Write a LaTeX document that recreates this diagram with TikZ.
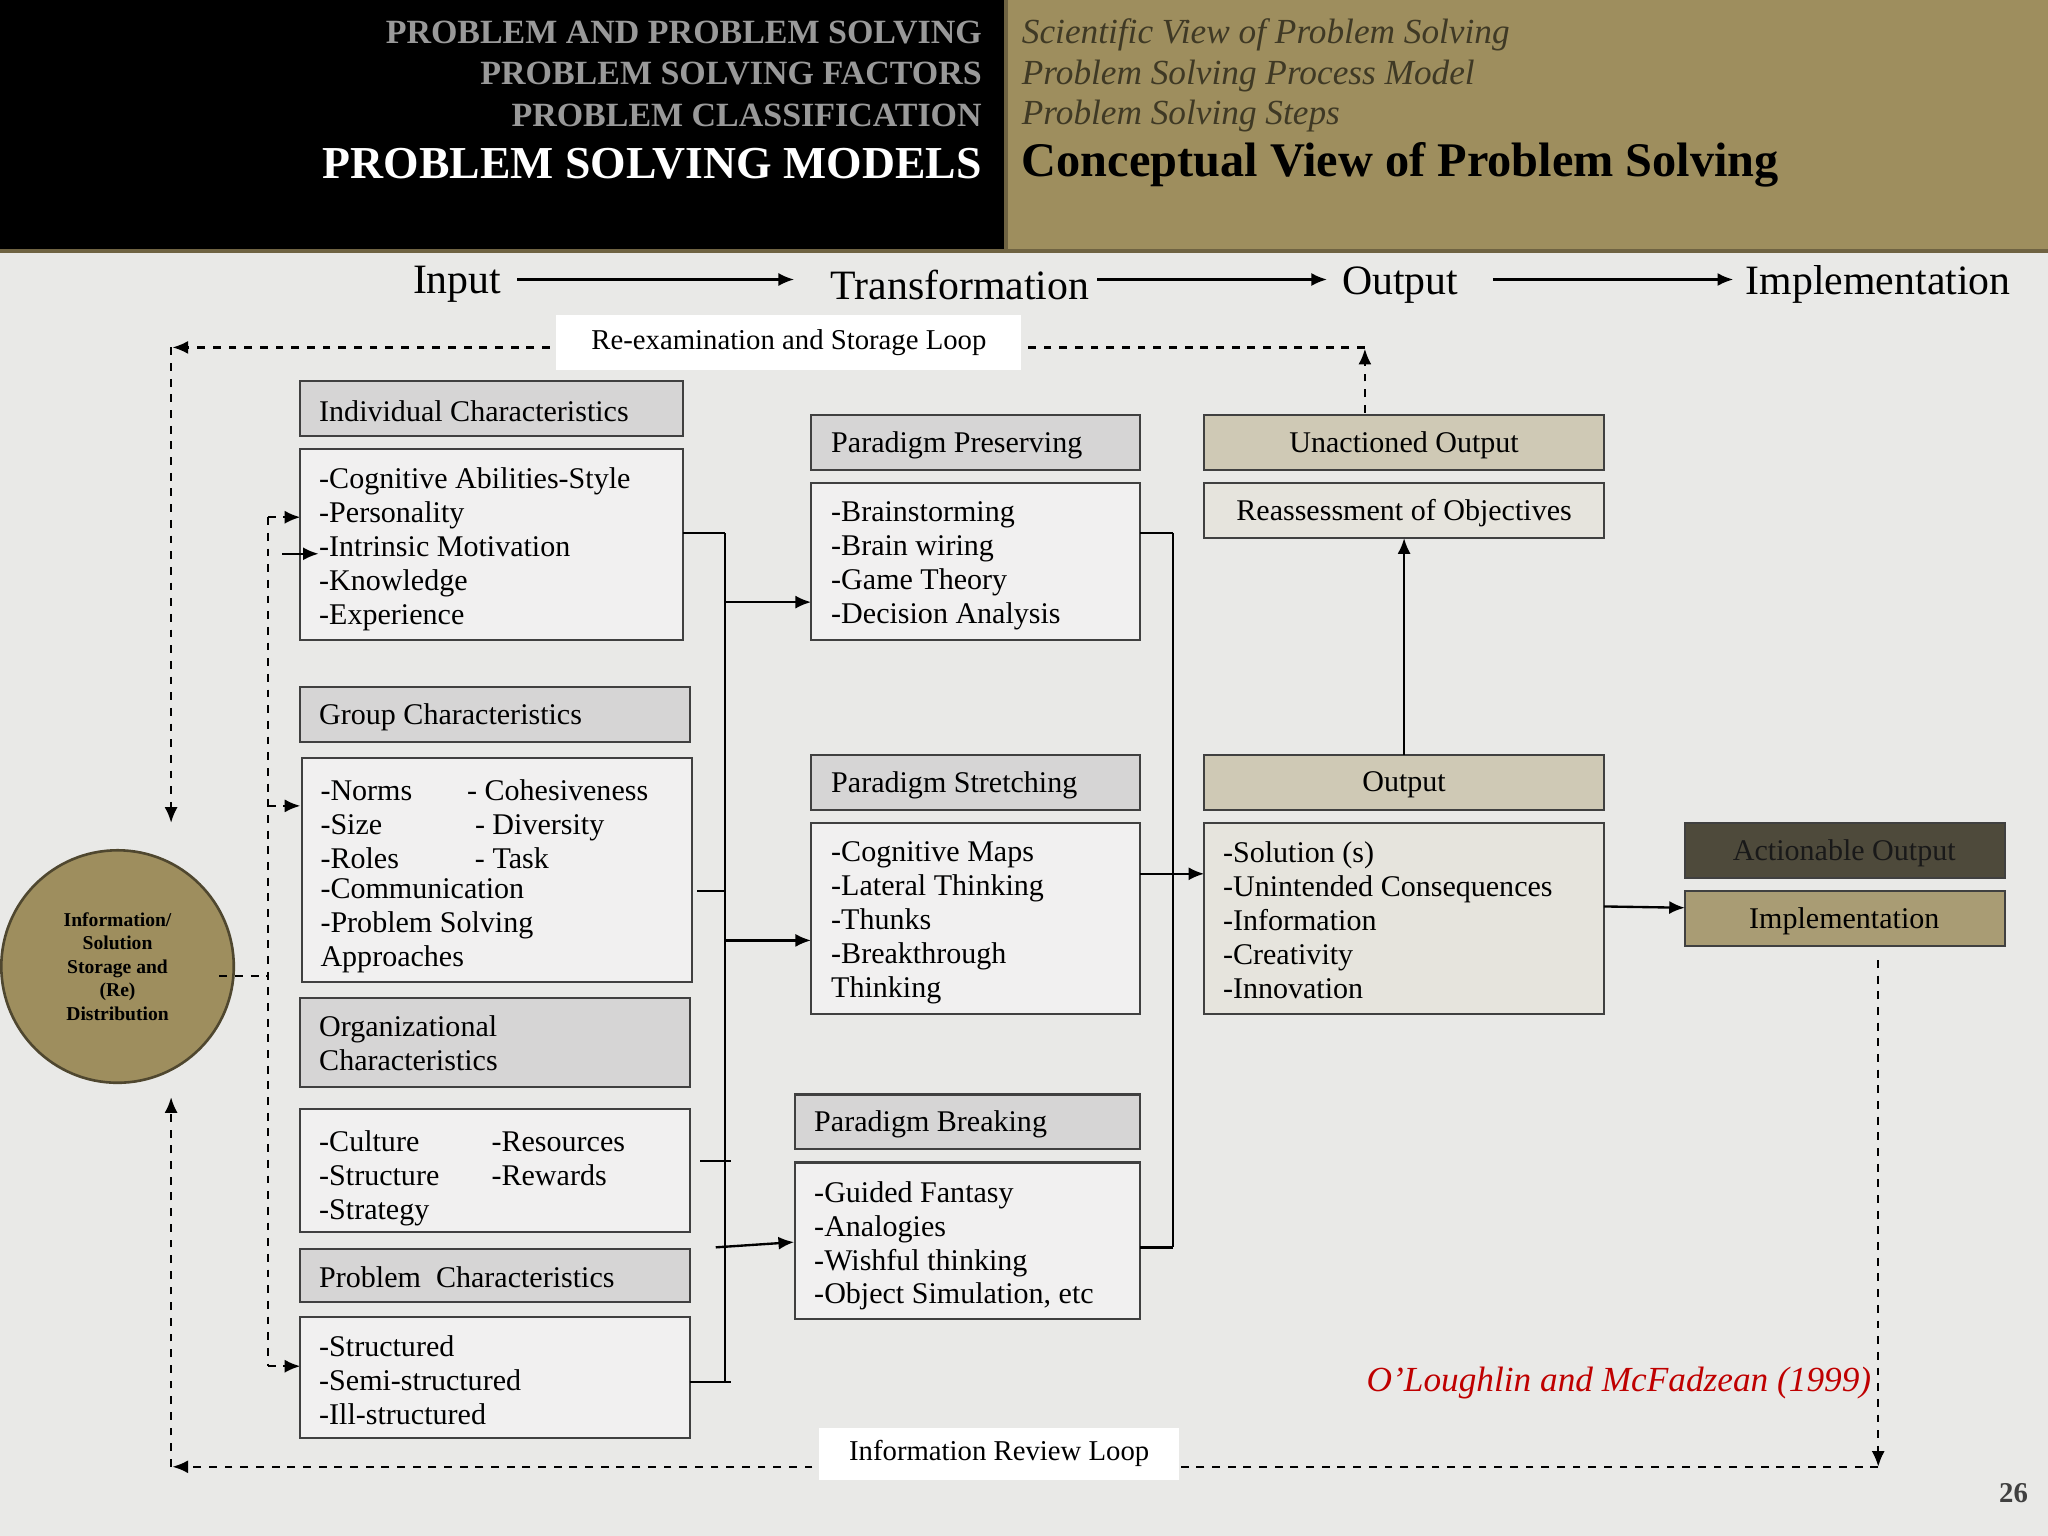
\documentclass[tikz,border=0pt]{standalone}
\usepackage{fontspec}
\setmainfont{Liberation Serif}
\usetikzlibrary{arrows.meta}
\definecolor{olive}{HTML}{9E8E5E}
\definecolor{hdrgray}{HTML}{D6D5D5}
\definecolor{lst}{HTML}{F1F0F0}
\definecolor{tan}{HTML}{CFC9B5}
\definecolor{tanl}{HTML}{E6E4DD}
\definecolor{dk}{HTML}{4E4A3B}
\definecolor{impl}{HTML}{A99C74}
\definecolor{bg}{HTML}{E9E9E7}
\tikzset{
 bx/.style={draw=black!75,line width=0.8pt},
 tx/.style={anchor=north west,align=left,inner sep=0pt,font=\fontsize{11.5}{13}\selectfont},
 ht/.style={anchor=west,inner sep=0pt,font=\fontsize{11.5}{13}\selectfont},
 ar/.style={-{Latex[length=6pt,width=5pt]},line width=0.9pt},
 dar/.style={ar,dashed},
 ln/.style={line width=0.9pt},
}
\newcommand{\bxx}[5]{\path[bx,fill=#5] (#1,#2) rectangle (#3,#4);}
\begin{document}
\begin{tikzpicture}[x=0.5pt,y=-0.5pt]
\useasboundingbox (0,0) rectangle (1568,1176);
\fill[bg] (0,0) rectangle (1568,1176);
\fill[black] (0,0) rectangle (770,192);
\fill[olive] (770,0) rectangle (1568,192);
\draw[olive!70!black,line width=1.5pt] (0,192)--(1568,192);
\draw[olive!70!black,line width=1.5pt] (770,0)--(770,192);
% header
\begin{scope}[every node/.style={anchor=east,inner sep=0pt,font=\fontsize{13}{14}\selectfont\bfseries,text=gray!80}]
\node (h1) at (752,25) {PROBLEM AND PROBLEM SOLVING};
\node (h2) at (752,56) {PROBLEM SOLVING FACTORS};
\node (h3) at (752,88) {PROBLEM CLASSIFICATION};
\end{scope}
\node[anchor=east,inner sep=0pt,font=\fontsize{17.5}{18}\selectfont\bfseries,text=white] (h4) at (752,125) {PROBLEM SOLVING MODELS};
\begin{scope}[every node/.style={anchor=west,inner sep=0pt,font=\fontsize{13.5}{14}\selectfont\itshape,text=olive!40!black}]
\node (r1) at (782,27) {Scientific View of Problem Solving};
\node (r2) at (782,58) {Problem Solving Process Model};
\node (r3) at (782,89) {Problem Solving Steps};
\end{scope}
\node[anchor=west,inner sep=0pt,font=\fontsize{18.5}{19}\selectfont\bfseries] (r4) at (782,126) {Conceptual View of Problem Solving};
% top row
\begin{scope}[every node/.style={inner sep=0pt,font=\fontsize{16}{17}\selectfont}]
\node (in) at (350,218) {Input};
\node (tr) at (735,218) {Transformation};
\node (out) at (1072,218) {Output};
\node (imp) at (1438,218) {Implementation};
\end{scope}
\draw[ar] (396,214)--(608,214);
\draw[ar] (840,214)--(1016,214);
\draw[ar] (1143,214)--(1327,214);
% re-examination loop
\draw[dar] (1045,316)--(1045,267);
\draw[dar] (1045,266)--(132,266);
\draw[dar] (131,266)--(131,630);
\node[fill=white,minimum width=178pt,minimum height=21pt,inner sep=0pt,font=\fontsize{11}{12}\selectfont] (rel) at (604,262) {Re-examination and Storage Loop};
% review loop
\draw[dar] (1438,735)--(1438,1123);
\draw[dar] (1438,1123)--(132,1123);
\draw[dar] (131,1123)--(131,840);
\node[fill=white,minimum width=138pt,minimum height=20pt,inner sep=0pt,font=\fontsize{11}{12}\selectfont] (irl) at (765,1113) {Information Review Loop};
% circle
\node[circle,draw=olive!50!black,line width=1pt,fill=olive,minimum size=89pt,align=center,font=\fontsize{7.5}{9}\selectfont\bfseries] (circ) at (90,740) {Information/\\Solution\\Storage and\\(Re)\\Distribution};
\draw[dashed,line width=0.9pt] (168,747)--(205,747);
\draw[dashed,line width=0.9pt] (205,396)--(205,1046);
\draw[dar] (205,396)--(230,396);
\draw[dar] (205,617)--(230,617);
\draw[dar] (205,1046)--(230,1046);
% left column
\bxx{230}{292}{523}{334}{hdrgray}
\node[ht] (ic) at (244,315) {Individual Characteristics};
\bxx{230}{344}{523}{490}{lst}
\node[tx] (icl) at (244,358) {-Cognitive Abilities-Style\\-Personality\\-Intrinsic Motivation\\-Knowledge\\-Experience};
\draw[ar] (216,424)--(244,424);
\bxx{230}{526}{528}{568}{hdrgray}
\node[ht] (gc) at (244,549) {Group Characteristics};
\bxx{231}{580}{530}{752}{lst}
\node[tx] (gcl) at (245,594) {\begin{tabular}{@{}l@{\hspace{22pt}}l@{}}-Norms & \hspace{-1pt}- Cohesiveness\\-Size & \hspace{2pt}- Diversity\\-Roles & \hspace{2pt}- Task\end{tabular}\\[-1pt]-Communication\\-Problem Solving\\ Approaches};
\bxx{230}{764}{528}{832}{hdrgray}
\node[tx] (oc) at (244,777) {Organizational\\Characteristics};
\bxx{230}{849}{528}{943}{lst}
\node[tx] (ocl) at (244,863) {\begin{tabular}{@{}l@{\hspace{20pt}}l@{}}-Culture & -Resources\\-Structure & -Rewards\\-Strategy & \end{tabular}};
\bxx{230}{956}{528}{997}{hdrgray}
\node[ht] (pc) at (244,978) {Problem\ \ Characteristics};
\bxx{230}{1008}{528}{1101}{lst}
\node[tx] (pcl) at (244,1022) {-Structured\\-Semi-structured\\-Ill-structured};
% connectors left
\draw[ln] (555,408)--(555,1058);
\draw[ln] (523,408)--(555,408);
\draw[ln] (534,682)--(555,682);
\draw[ln] (536,889)--(560,889);
\draw[ln] (528,1058)--(560,1058);
\draw[ar] (555,461)--(621,461);
\draw[ar] (555,720)--(621,720);
\draw[ar] (548,955)--(608,951);
% middle column
\bxx{621}{318}{873}{360}{hdrgray}
\node[ht] (pp) at (636,341) {Paradigm Preserving};
\bxx{621}{370}{873}{490}{lst}
\node[tx] (ppl) at (636,384) {-Brainstorming\\-Brain wiring\\-Game Theory\\-Decision Analysis};
\bxx{621}{578}{873}{620}{hdrgray}
\node[ht] (ps) at (636,601) {Paradigm Stretching};
\bxx{621}{630}{873}{776}{lst}
\node[tx] (psl) at (636,644) {-Cognitive Maps\\-Lateral Thinking\\-Thunks\\-Breakthrough\\Thinking};
\bxx{609}{838}{873}{880}{hdrgray}
\node[ht] (pb) at (623,861) {Paradigm Breaking};
\bxx{609}{890}{873}{1010}{lst}
\node[tx] (pbl) at (623,904) {-Guided Fantasy\\-Analogies\\-Wishful thinking\\-Object Simulation, etc};
% connectors middle
\draw[ln] (898,408)--(898,955);
\draw[ln] (873,408)--(898,408);
\draw[ln] (873,955)--(898,955);
\draw[ar] (873,669)--(922,669);
% right column
\bxx{922}{318}{1228}{360}{tan}
\node[inner sep=0pt,font=\fontsize{11.5}{13}\selectfont] (uo) at (1075,341) {Unactioned Output};
\bxx{922}{370}{1228}{412}{tanl}
\node[inner sep=0pt,font=\fontsize{11.5}{13}\selectfont] (ro) at (1075,393) {Reassessment of Objectives};
\bxx{922}{578}{1228}{620}{tan}
\node[inner sep=0pt,font=\fontsize{11.5}{13}\selectfont] (op) at (1075,601) {Output};
\bxx{922}{630}{1228}{776}{tanl}
\node[tx] (opl) at (936,644) {-Solution (s)\\-Unintended Consequences\\-Information\\-Creativity\\-Innovation};
\draw[ar] (1075,578)--(1075,412);
\bxx{1290}{630}{1535}{672}{dk}
\node[inner sep=0pt,font=\fontsize{11.5}{13}\selectfont,text=black!90] (ao) at (1412,653) {Actionable Output};
\bxx{1290}{682}{1535}{724}{impl}
\node[inner sep=0pt,font=\fontsize{11.5}{13}\selectfont] (im) at (1412,705) {Implementation};
\draw[ar] (1228,694)--(1290,695);
% citation
\node[anchor=east,inner sep=0pt,font=\fontsize{13.5}{14}\selectfont\itshape,text=red!75!black] (cit) at (1433,1059) {O’Loughlin and McFadzean (1999)};
\node[anchor=east,inner sep=0pt,font=\fontsize{11}{12}\selectfont\bfseries,text=black!75] (pg) at (1553,1143) {26};
\end{tikzpicture}
\end{document}
